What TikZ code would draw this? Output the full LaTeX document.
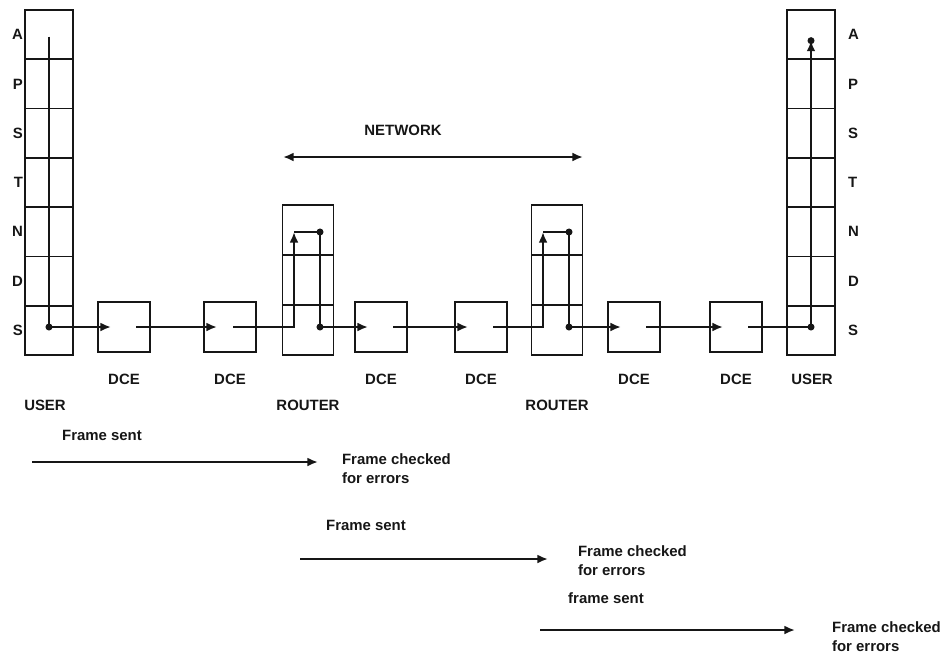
\documentclass[tikz,border=0pt]{standalone}
\usepackage{fontspec}
\setmainfont{Liberation Sans}
\usetikzlibrary{arrows.meta,calc,positioning}
\definecolor{scanInk}{RGB}{22,22,22}
\tikzset{
  cell/.style={draw=scanInk,line width=1pt,minimum width=0.96cm,
    minimum height=0.986cm,inner sep=0pt,outer sep=0pt},
  rcell/.style={cell,minimum width=1.02cm,minimum height=1cm},
  dcebox/.style={cell,minimum width=1.04cm,minimum height=1cm},
  tag/.style={font=\fontsize{8.5}{10.8}\selectfont\bfseries,text=scanInk,inner sep=1pt},
  wire/.style={draw=scanInk,line width=1.25pt},
  feed/.style={wire,-{Latex[length=6pt,width=5pt]}},
  knot/.style={circle,fill=scanInk,inner sep=0pt,minimum size=4pt}
}

\begin{document}
\begin{tikzpicture}[x=0.02cm,y=-0.02cm]
  \useasboundingbox (0,0) rectangle (945,667);
  \foreach \i/\t in {1/A,2/P,3/S,4/T,5/N,6/D,7/S}{
    \node[cell] (ul\i) at (49,{34.65+(\i-1)*49.3}) {};
    \node[tag,anchor=east] (ulT\i) at (ul\i.west) {\t};
    \node[cell] (ur\i) at (811,{34.65+(\i-1)*49.3}) {};
    \node[tag,right=0.22cm of ur\i] (urT\i) {\t};
  }
  \foreach \d/\x/\o in {1/124/12,2/230/3,3/381/12,4/481/12,5/634/12,6/736/12}{
    \node[dcebox] (dce\d) at (\x,327) {};
    \node[tag] (dceT\d) at (\x,379) {DCE};
    \coordinate (in\d) at ($(dce\d.center)+(-13,0)$);
    \coordinate (out\d) at ($(dce\d.center)+(\o,0)$);
  }
  \foreach \r/\x in {1/308,2/557}{
    \foreach \j in {1,2,3} \node[rcell] (rt\r-\j) at (\x,{180+50*\j}) {};
    \node[tag] (rtT\r) at (\x,405) {ROUTER};
    \coordinate (r\r tl) at ($(rt\r-1.center)+(-14,2)$);
    \coordinate (r\r tr) at ($(rt\r-1.center)+(12,2)$);
    \coordinate (r\r bl) at (r\r tl |- dce1.center);
    \coordinate (r\r br) at (r\r tr |- dce1.center);
  }
  \node[tag] (userL) at (45,405) {USER};
  \node[tag] (userR) at (812,379) {USER};

  \node[tag] (net) at (403,130) {NETWORK};
  \coordinate (netL) at (283,157);
  \coordinate (netR) at (583,157);
  \draw[wire,{Latex[length=6pt,width=5pt]}-{Latex[length=6pt,width=5pt]}] (netL) -- (netR);

  \coordinate (ulTop) at ($(ul1.center)+(0,2)$);
  \coordinate (ulBot) at (ul7.center |- dce1.center);
  \coordinate (urTop) at ($(ur1.center)+(0,6)$);
  \coordinate (urBot) at (ur7.center |- dce6.center);
  \draw[feed] (ulTop) -- (ulBot) -- (in1);
  \draw[feed] (out1) -- (in2);
  \draw[feed] (out2) -- (r1bl) -- (r1tl);
  \draw[feed] (r1tl) -- (r1tr) -- (r1br) -- (in3);
  \draw[feed] (out3) -- (in4);
  \draw[feed] (out4) -- (r2bl) -- (r2tl);
  \draw[feed] (r2tl) -- (r2tr) -- (r2br) -- (in5);
  \draw[feed] (out5) -- (in6);
  \draw[feed] (out6) -- (urBot) -- (urTop);
  \node[knot] (k1) at (ulBot) {};
  \node[knot] (k2) at (r1tr) {};
  \node[knot] (k3) at (r1br) {};
  \node[knot] (k4) at (r2tr) {};
  \node[knot] (k5) at (r2br) {};
  \node[knot] (k6) at (urBot) {};
  \node[knot] (k7) at (urTop) {};

  \node[tag] (sent1) at (102,435) {Frame sent};
  \coordinate (f1a) at (32,462);
  \coordinate (f1b) at (318,462);
  \draw[feed] (f1a) -- (f1b);
  \node[tag,anchor=west,align=left] (chk1) at (340,469) {Frame checked\\for errors};

  \node[tag] (sent2) at (366,525) {Frame sent};
  \coordinate (f2a) at (300,559);
  \coordinate (f2b) at (548,559);
  \draw[feed] (f2a) -- (f2b);
  \node[tag,anchor=west,align=left] (chk2) at (576,561) {Frame checked\\for errors};

  \node[tag] (sent3) at (606,598) {frame sent};
  \coordinate (f3a) at (540,630);
  \coordinate (f3b) at (795,630);
  \draw[feed] (f3a) -- (f3b);
  \node[tag,anchor=west,align=left] (chk3) at (830,637) {Frame checked\\for errors};
\end{tikzpicture}
\end{document}
